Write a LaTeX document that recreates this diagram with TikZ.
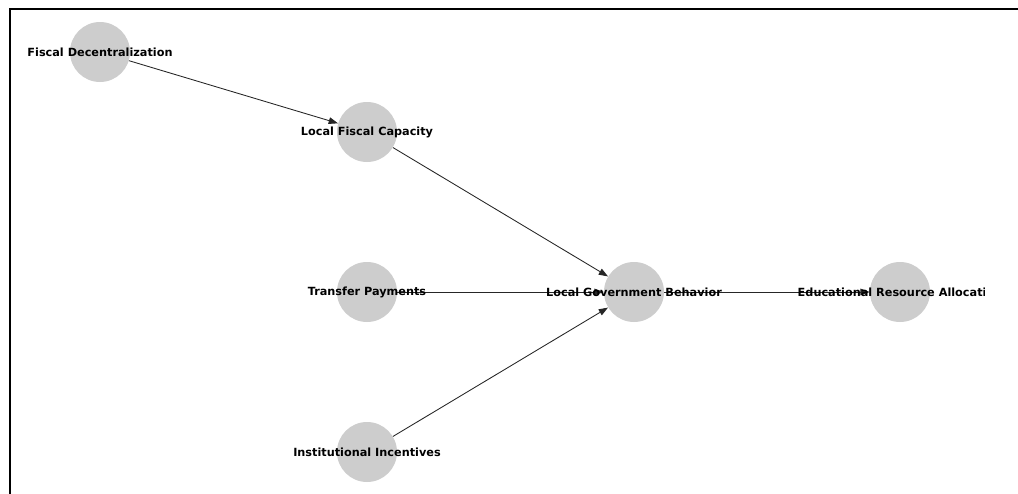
\documentclass[tikz,border=0pt]{standalone}
\usepackage{fontspec}
\setmainfont{DejaVu Sans}
\usetikzlibrary{positioning, arrows.meta}

\definecolor{nodegray}{HTML}{CDCDCD}

\begin{document}
\begin{tikzpicture}[
    x=0.75pt, y=-0.75pt,
    >={Triangle[length=7pt, width=5pt]},
    dot/.style={circle, fill=nodegray, draw=none, minimum size=45pt, inner sep=0pt},
    lbl/.style={font=\bfseries\fontsize{8.45}{10}\selectfont, inner sep=0pt},
    link/.style={->, draw=black!85, line width=0.65pt}
]

% ================= Frame =================
\useasboundingbox (0,0) rectangle (1018,493);
\clip (0,0) rectangle (1018,493);
\draw[line width=1.5pt] (10,9) rectangle (1030,510);

% ================= Nodes =================

% Left column
\node[dot] (fiscal) at (100,52) {};

% Middle column
\node[dot] (capacity) at (367,132) {};
\node[dot] (transfer) at (367,292) {};
\node[dot] (incent) at (367,452) {};

% Behaviour and outcome
\node[dot] (behav) at (634,292) {};
\node[dot] (alloc) at (900,292) {};

% ================= Edges =================

\draw[link] (fiscal) -- (capacity);
\draw[link] (capacity) -- (behav);
\draw[link] (transfer) -- (behav);
\draw[link] (incent) -- (behav);
\draw[link] (behav) -- (alloc);

% ================= Labels =================

\node[lbl] (fiscal_txt) at (fiscal) {Fiscal Decentralization};
\node[lbl] (capacity_txt) at (capacity) {Local Fiscal Capacity};
\node[lbl] (transfer_txt) at (transfer) {Transfer Payments};
\node[lbl] (incent_txt) at (incent) {Institutional Incentives};
\node[lbl] (behav_txt) at (behav) {Local Government Behavior};
\begin{scope}
    \clip (0,0) rectangle (984,493);
    \node[lbl] (alloc_txt) at (alloc) {Educational Resource Allocation};
\end{scope}

\end{tikzpicture}
\end{document}
